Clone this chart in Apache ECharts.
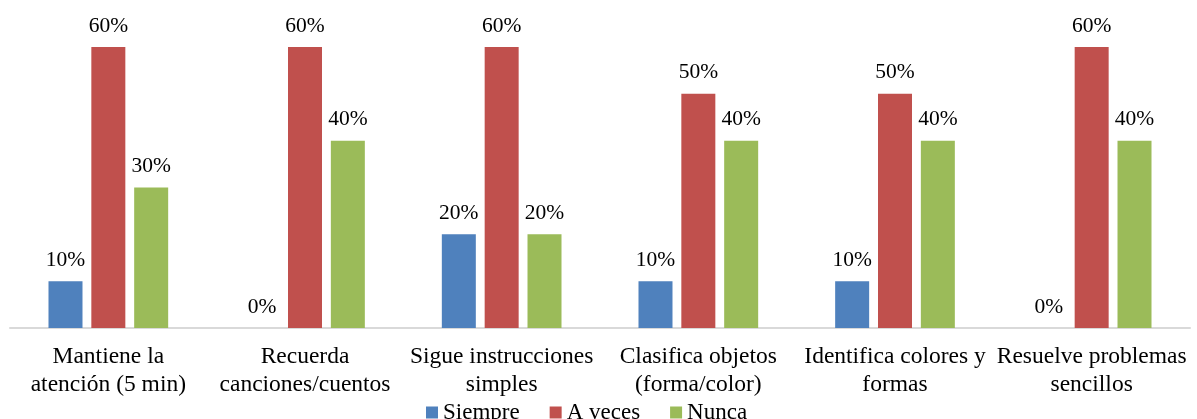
<!DOCTYPE html>
<html><head><meta charset="utf-8">
<script src="https://cdn.jsdelivr.net/npm/echarts@6/dist/echarts.min.js"></script>
<style>html,body{margin:0;padding:0;background:#fff}#c{width:1197px;height:419px}</style>
</head><body><div id="c"></div>
<script>
const categories = ["Mantiene la\natención (5 min)", "Recuerda\ncanciones/cuentos", "Sigue instrucciones\nsimples", "Clasifica objetos\n(forma/color)", "Identifica colores y\nformas", "Resuelve problemas\nsencillos"];
const seriesNames = ["Siempre", "A veces", "Nunca"];
const siempre = [10, 0, 20, 10, 10, 0];
const aVeces = [60, 60, 60, 50, 50, 60];
const nunca = [30, 40, 20, 40, 40, 40];
const colors = ["#4f81bd", "#c0504d", "#9bbb59"];
const font = "'Liberation Serif', 'Times New Roman', serif";
const chart = echarts.init(document.getElementById('c'), null, {renderer: 'canvas'});
const mk = (name, data, color) => ({
  name, type: 'bar', data, barWidth: 34, barGap: '26%',
  itemStyle: {color},
  label: {show: true, position: 'top', distance: 10, formatter: '{c}%', color: '#000', fontFamily: font, fontSize: 21.5},
  animation: false
});
chart.setOption({
  animation: false,
  textStyle: {fontFamily: font},
  grid: {left: 10, right: 7, top: 47, bottom: 91, containLabel: false},
  legend: {
    data: seriesNames, bottom: -10, left: 421, itemWidth: 12, itemHeight: 12, itemGap: 30,
    icon: 'rect',
    textStyle: {fontFamily: font, fontSize: 23, color: '#000'}
  },
  xAxis: {
    type: 'category', data: categories,
    axisLine: {lineStyle: {color: '#d9d9d9', width: 2}},
    axisTick: {show: false},
    axisLabel: {interval: 0, color: '#000', fontFamily: font, fontSize: 23.5, lineHeight: 28, margin: 15}
  },
  yAxis: {type: 'value', min: 0, max: 60, show: false, splitLine: {show: false}},
  series: [mk(seriesNames[0], siempre, colors[0]), mk(seriesNames[1], aVeces, colors[1]), mk(seriesNames[2], nunca, colors[2])]
});
</script></body></html>
